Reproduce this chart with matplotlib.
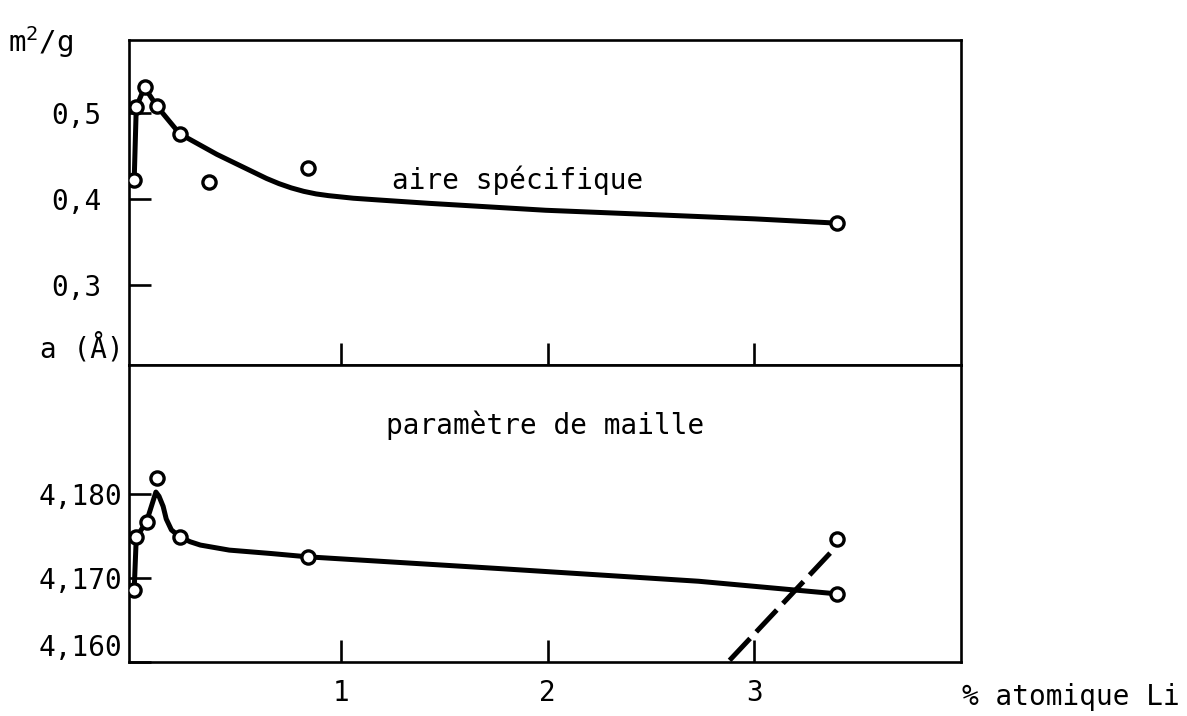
import matplotlib
matplotlib.use("Agg")
import matplotlib.pyplot as plt

plt.rcParams['font.family'] = ['DejaVu Sans Mono']
plt.rcParams['mathtext.fontset'] = 'custom'
plt.rcParams['mathtext.rm'] = 'DejaVu Sans Mono'
plt.rcParams['mathtext.it'] = 'DejaVu Sans Mono'

# measured points, specific surface area (m2/g)
area_x = [0.0, 0.01, 0.05, 0.11, 0.22, 3.40]
area_y = [0.422, 0.507, 0.530, 0.508, 0.476, 0.372]
# points off the curve
area_out_x = [0.36, 0.84]
area_out_y = [0.420, 0.436]
# hand-drawn curve through the area points
area_curve_x = [0.0, 0.01, 0.05, 0.11, 0.22, 0.28, 0.34, 0.40, 0.46, 0.52, 0.58, 0.64,
                0.70, 0.76, 0.82, 0.88, 0.94, 1.06, 1.18, 1.43, 1.99, 2.50, 3.00, 3.40]
area_curve_y = [0.422, 0.507, 0.530, 0.508, 0.476, 0.468, 0.460, 0.452, 0.445, 0.438, 0.431,
                0.424, 0.418, 0.413, 0.409, 0.406, 0.404, 0.401, 0.399, 0.395, 0.387, 0.382,
                0.377, 0.372]

# lattice parameter a (Angstrom)
latt_x = [0.0, 0.01, 0.06, 0.11, 0.22, 0.84, 3.40]
latt_y = [4.1686, 4.1748, 4.1767, 4.1819, 4.1749, 4.1725, 4.1681]
latt_curve_x = [0.0, 0.01, 0.06, 0.105, 0.12, 0.14, 0.155, 0.18, 0.22, 0.27, 0.32, 0.39,
                0.46, 0.56, 0.66, 0.84, 1.77, 2.73, 3.40]
latt_curve_y = [4.1686, 4.1748, 4.1767, 4.1802, 4.1797, 4.1785, 4.1770, 4.1757, 4.1749, 4.1743,
                4.1739, 4.1736, 4.1733, 4.1731, 4.1729, 4.1725, 4.1711, 4.1696, 4.1681]
# second series (dashed)
dash_x = [2.88, 3.38]
dash_y = [4.1602, 4.1733]
dash_pt_x = [3.40]
dash_pt_y = [4.1746]

x_ticks = [1, 2, 3]
area_ticks = [0.3, 0.4, 0.5]
area_labels = ['0,3', '0,4', '0,5']
latt_ticks = [4.160, 4.170, 4.180]
latt_labels = ['4,160', '4,170', '4,180']

fig = plt.figure(figsize=(11.87, 7.16), dpi=100)
ax1 = fig.add_axes([0.1087, 0.4902, 0.7010, 0.4539])
ax2 = fig.add_axes([0.1087, 0.0754, 0.7010, 0.4148])

lw = 3.6
fs = 20
mk = dict(marker='o', ms=9.5, mfc='white', mec='black', mew=2.4, ls='none', zorder=3)

ax1.plot(area_curve_x, area_curve_y, color='black', lw=lw,
         solid_capstyle='round', solid_joinstyle='round')
ax1.plot(area_x, area_y, **mk)
ax1.plot(area_out_x, area_out_y, **mk)
ax1.text(1.855, 0.422, 'aire spécifique', fontsize=fs, ha='center', va='center')

ax2.plot(latt_curve_x, latt_curve_y, color='black', lw=lw,
         solid_capstyle='round', solid_joinstyle='round')
ax2.plot(latt_x, latt_y, **mk)
ax2.plot(dash_x, dash_y, color='black', lw=lw, ls=(0, (6, 1.8)))
ax2.plot(dash_pt_x, dash_pt_y, **mk)
ax2.text(1.99, 4.1881, 'paramètre de maille', fontsize=fs, ha='center', va='center')

for ax in (ax1, ax2):
    ax.set_xlim(-0.025, 4.0)
    ax.set_xticks(x_ticks)
    for s in ax.spines.values():
        s.set_linewidth(1.9)
    ax.tick_params(direction='in', length=16, width=1.9, labelsize=fs)

ax1.set_ylim(0.207, 0.585)
ax1.set_yticks(area_ticks)
ax1.set_yticklabels(area_labels)
ax1.tick_params(axis='y', pad=20)
ax1.tick_params(axis='x', labelbottom=False)

ax2.set_ylim(4.160, 4.1953)
ax2.set_yticks(latt_ticks)
ax2.set_yticklabels(latt_labels)
ax2.tick_params(axis='y', pad=5)
ax2.tick_params(axis='x', pad=12)
ax2.get_yticklabels()[0].set_va('bottom')

fig.text(8 / 1187, 1 - 52 / 716, 'm$^2$/g', fontsize=21, ha='left', va='baseline')
fig.text(40 / 1187, 1 - 348 / 716, 'a (Å)', fontsize=fs, ha='left', va='center')
fig.text(962 / 1187, 1 - 697 / 716, '% atomique Li', fontsize=fs, ha='left', va='center')

fig.savefig('out.png', dpi=100, facecolor='white')
